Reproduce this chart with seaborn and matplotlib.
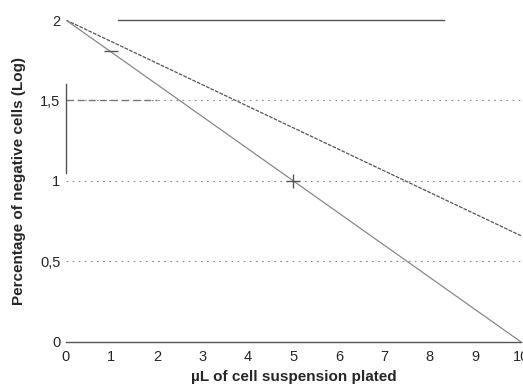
import numpy as np
import pandas as pd
import seaborn as sns
import matplotlib.pyplot as plt

# values
volume = [0, 10]
slow_line = [2.0, 0.66]
fast_line = [2.0, 0.0]
mark_x = [5, 1]
mark_y = [1.0, 1.81]
mark_style = ['+', '_']
grid_levels = [0.5, 1.0, 1.5]
xticks = list(range(0, 11))
yticks = [0, 0.5, 1, 1.5, 2]
ytick_labels = ['0', '0,5', '1', '1,5', '2']

sns.set_style('white')
plt.rcParams['font.family'] = ['Liberation Sans', 'DejaVu Sans']

df = pd.DataFrame({
    'x': volume * 2,
    'y': slow_line + fast_line,
    'fit': ['slow'] * 2 + ['fast'] * 2,
})

fig = plt.figure(figsize=(5.23, 3.85), dpi=100)
ax = fig.add_axes([0.126, 0.112, 0.87, 0.836])

# faint grid lines (dotted, 1.5 partly dashed)
for lvl in grid_levels:
    ax.axhline(lvl, color='#888888', lw=0.8, ls=(0, (1.5, 4)), zorder=0)
ax.plot([0, 2], [1.5, 1.5], color='#777777', lw=1.0, ls=(0, (5, 3)), zorder=1)

sns.lineplot(data=df, x='x', y='y', hue='fit', palette=['#555555', '#888888'],
             linewidth=0.9, legend=False, ax=ax)
ax.lines[-2].set_linestyle((0, (3, 1)))

for mx, my, ms in zip(mark_x, mark_y, mark_style):
    ax.plot(mx, my, marker=ms, color='#555555', markersize=10, mew=1.0)

ax.set_xlim(0, 10)
ax.set_ylim(0, 2)
ax.set_xticks(xticks)
ax.set_yticks(yticks)
ax.set_yticklabels(ytick_labels)
ax.tick_params(axis='both', length=0, labelsize=10.5)
ax.tick_params(axis='x', pad=6)
ax.tick_params(axis='y', pad=4)

for side in ['top', 'bottom', 'left', 'right']:
    ax.spines[side].set_color('#555555')
    ax.spines[side].set_linewidth(1.0)
ax.spines['right'].set_visible(False)
ax.spines['top'].set_bounds(1.15, 8.3)
ax.spines['left'].set_bounds(1.05, 1.6)

ax.set_xlabel('µL of cell suspension plated', fontsize=11, fontweight='bold', labelpad=4)
ax.set_ylabel('Percentage of negative cells (Log)', fontsize=11, fontweight='bold', labelpad=10)

fig.savefig('out.png', dpi=100)
